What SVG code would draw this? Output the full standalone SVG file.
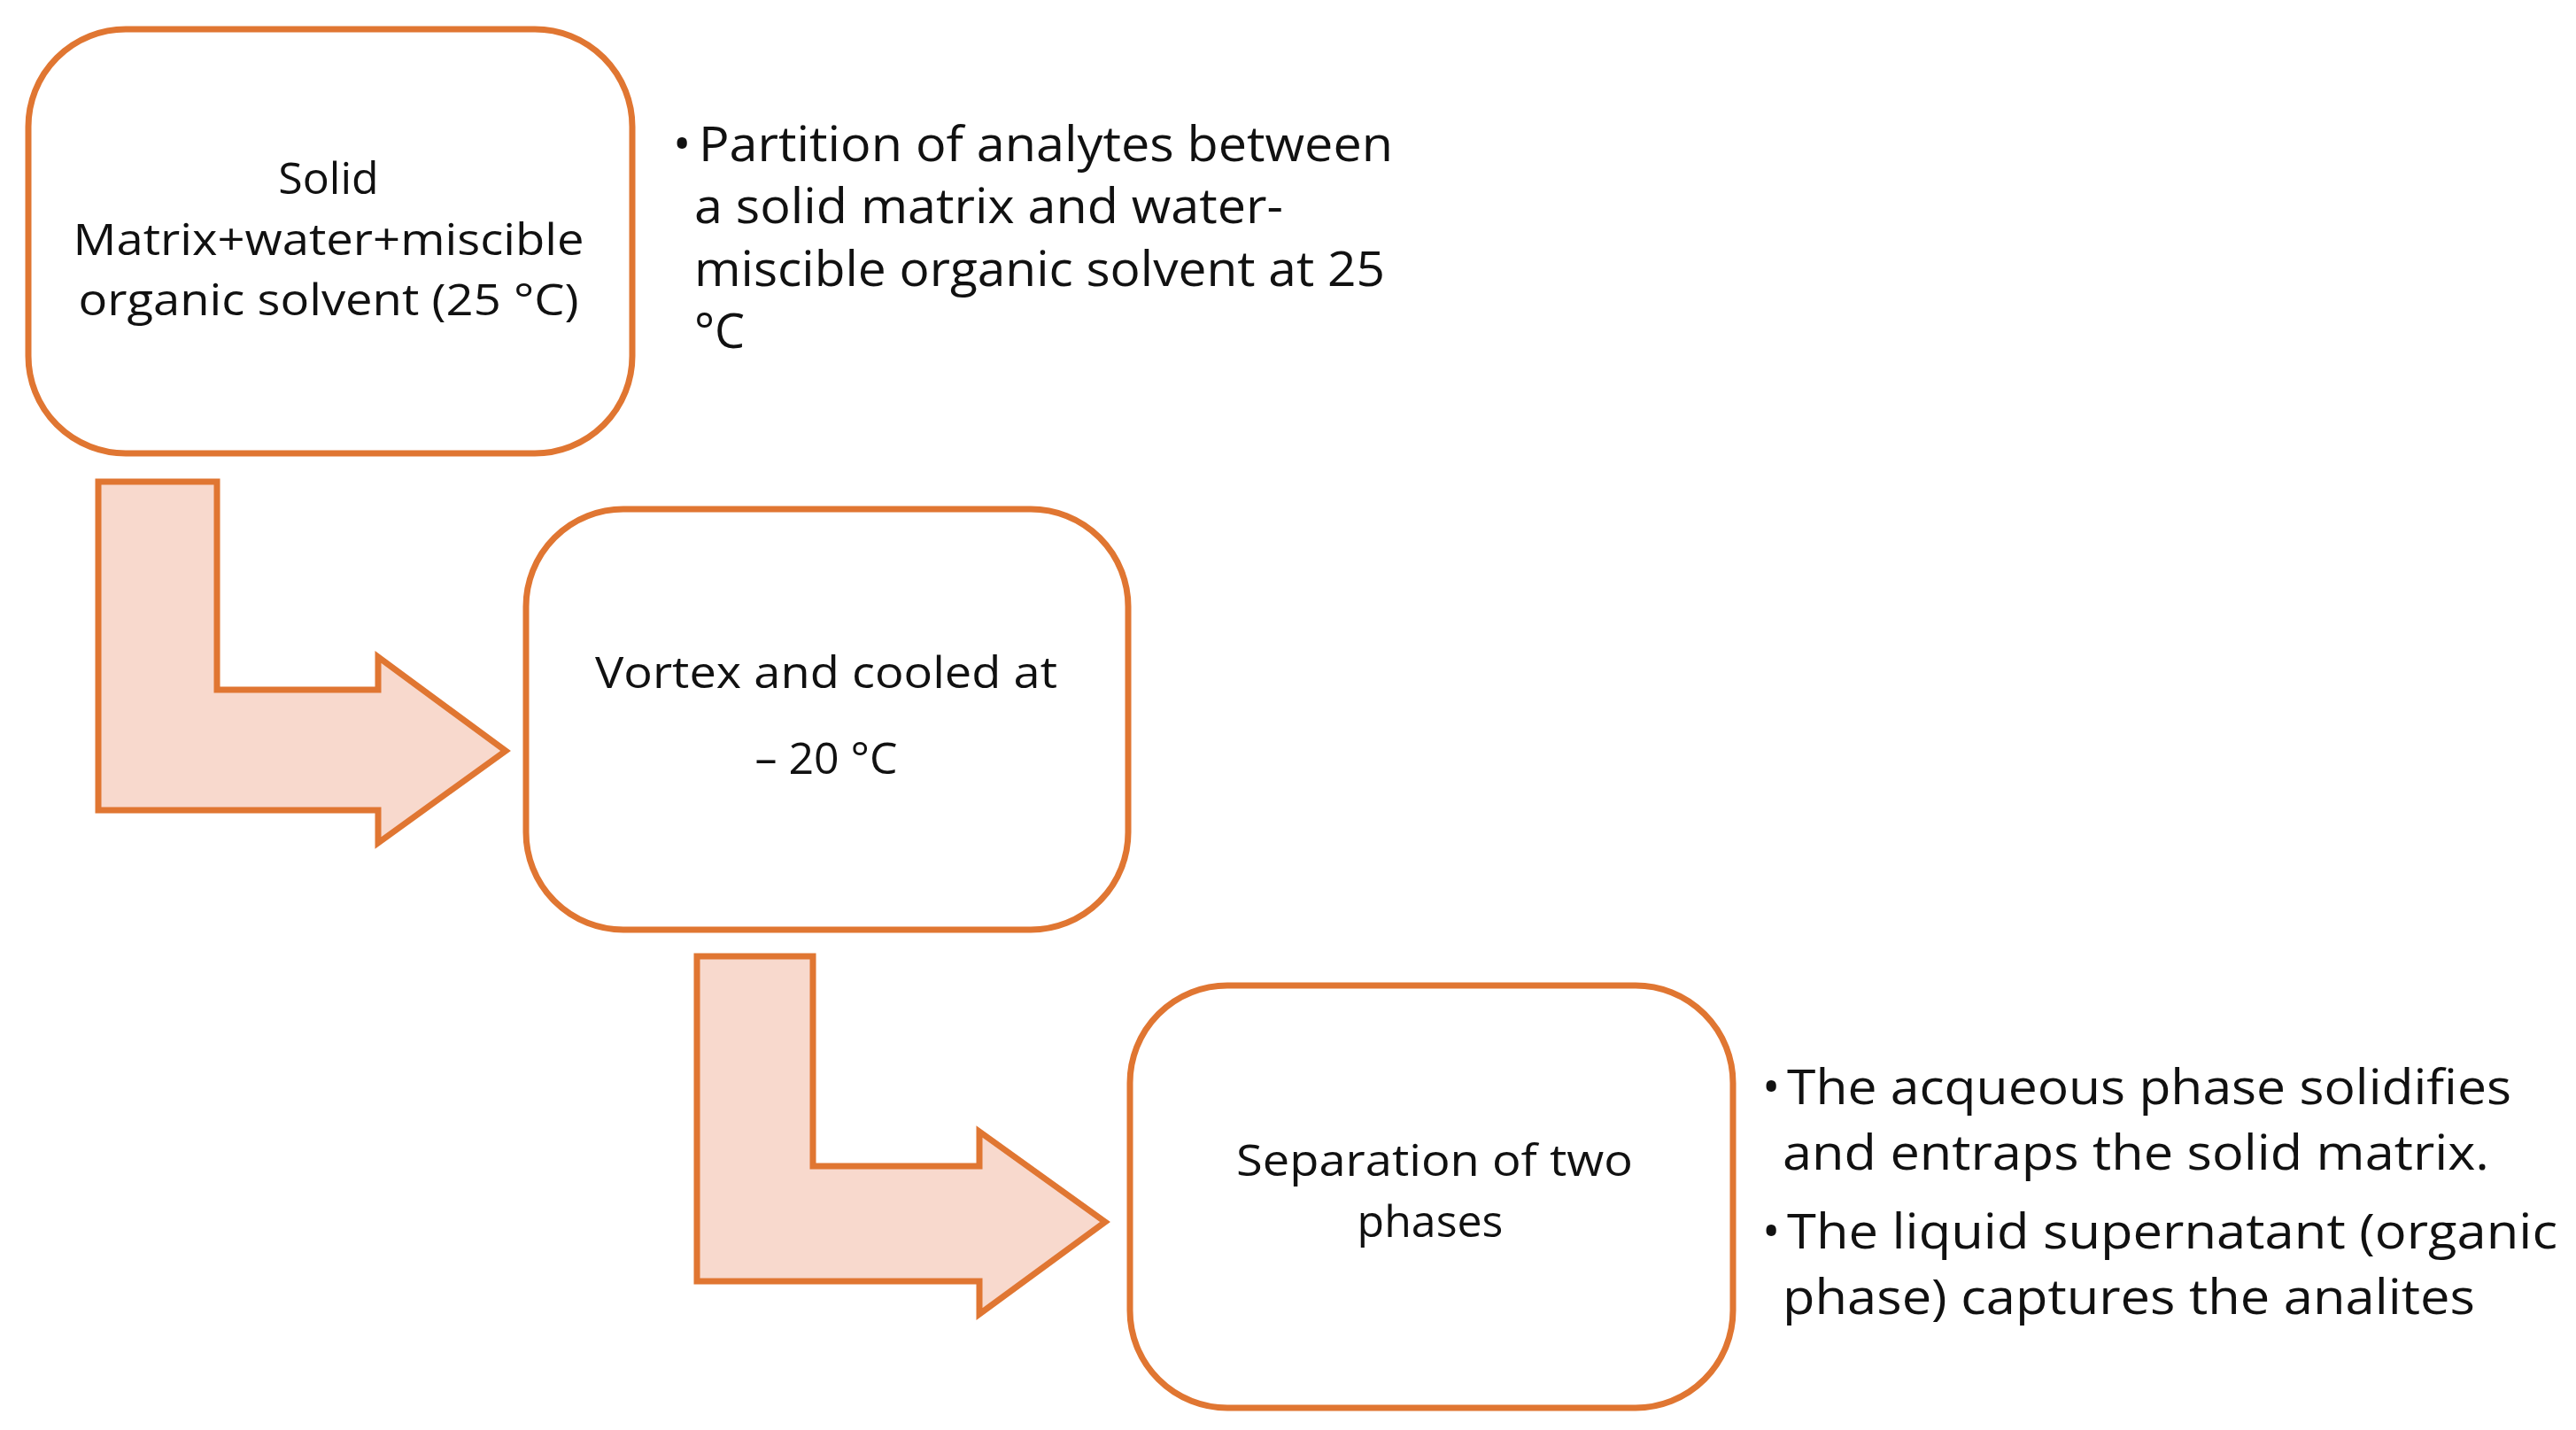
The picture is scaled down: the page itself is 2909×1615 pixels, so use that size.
<svg xmlns="http://www.w3.org/2000/svg" width="2909" height="1615" viewBox="0 0 2909 1615">
<style>
.box{fill:#fff;stroke:#E07632;stroke-width:7}
.arr{fill:#F8D9CD;stroke:#E07632;stroke-width:7;stroke-linejoin:miter}
text{font-family:"Open Sans","Liberation Sans",sans-serif;fill:#111}
.c{font-size:50px;text-anchor:middle}
.s{font-size:54px}
</style>
<rect width="2909" height="1615" fill="#fff"/>
<g id="connectors">
<polygon class="arr" points="111,544 245,544 245,779 427,779 427,742 571,848 427,952 427,915 111,915"/>
<polygon class="arr" points="787,1080 918,1080 918,1317 1106,1317 1106,1278 1248,1380 1106,1484 1106,1447 787,1447"/>
</g>
<g id="n1">
<rect class="box" x="32" y="33" width="682" height="479" rx="110"/>
<text class="c" x="371" y="219">Solid</text>
<text class="c" x="371" y="288" textLength="577" lengthAdjust="spacingAndGlyphs">Matrix+water+miscible</text>
<text class="c" x="371" y="356" textLength="565" lengthAdjust="spacingAndGlyphs">organic solvent (25 °C)</text>
</g>
<g id="t1">
<text class="s" x="760" y="182">•</text>
<text class="s" x="789" y="182" textLength="784" lengthAdjust="spacingAndGlyphs">Partition of analytes between</text>
<text class="s" x="784" y="252" textLength="665" lengthAdjust="spacingAndGlyphs">a solid matrix and water-</text>
<text class="s" x="784" y="323" textLength="780" lengthAdjust="spacingAndGlyphs">miscible organic solvent at 25</text>
<text class="s" x="784" y="393">°C</text>
</g>
<g id="n2">
<rect class="box" x="594" y="575" width="680" height="475" rx="110"/>
<text class="c" x="933" y="777" textLength="522" lengthAdjust="spacingAndGlyphs">Vortex and cooled at</text>
<text class="c" x="933" y="874">– 20 °C</text>
</g>
<g id="n3">
<rect class="box" x="1276" y="1113" width="681" height="477" rx="110"/>
<text class="c" x="1620" y="1328" textLength="448" lengthAdjust="spacingAndGlyphs">Separation of two</text>
<text class="c" x="1615" y="1397">phases</text>
</g>
<g id="t3">
<text class="s" x="1990" y="1247">•</text>
<text class="s" x="2018" y="1247" textLength="818" lengthAdjust="spacingAndGlyphs">The acqueous phase solidifies</text>
<text class="s" x="2013" y="1321" textLength="798" lengthAdjust="spacingAndGlyphs">and entraps the solid matrix.</text>
<text class="s" x="1990" y="1410">•</text>
<text class="s" x="2018" y="1410" textLength="870" lengthAdjust="spacingAndGlyphs">The liquid supernatant (organic</text>
<text class="s" x="2013" y="1484" textLength="782" lengthAdjust="spacingAndGlyphs">phase) captures the analites</text>
</g>
</svg>
